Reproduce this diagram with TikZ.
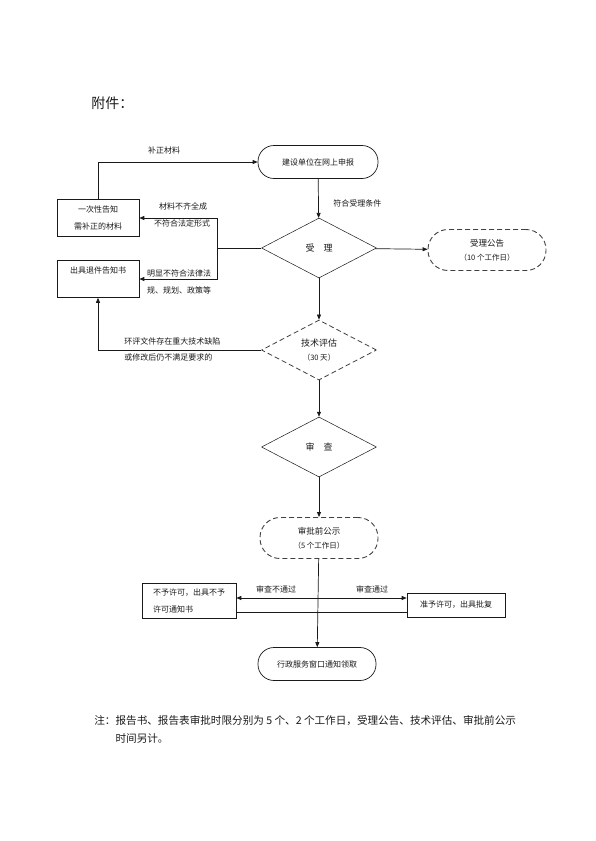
\documentclass[tikz,border=0pt]{standalone}
\usepackage{fontspec}
\setmainfont{Liberation Serif}
\newfontfamily\cjk{Noto Sans CJK SC}
\usetikzlibrary{arrows.meta,shapes.geometric}
\definecolor{LineClr}{rgb}{0.1,0.1,0.1}
\definecolor{DashClr}{rgb}{0.25,0.25,0.25}

\begin{document}
\begin{tikzpicture}[x=1pt,y=-1pt,line width=0.7pt,color=LineClr,
  font=\cjk\fontsize{8}{9}\selectfont,
  every node/.style={inner sep=1pt},
  term/.style={draw,rounded corners=16pt,minimum width=120pt,minimum height=33pt},
  dterm/.style={term,draw=DashClr,line width=0.9pt,dash pattern=on 5pt off 3pt,rounded corners=20pt,
    minimum width=118pt,minimum height=41pt,align=center,font=\cjk\fontsize{8.5}{14}\selectfont},
  dec/.style={draw,diamond,minimum width=115pt,minimum height=60pt,inner sep=0pt,line width=0.5pt},
  box/.style={draw,minimum width=82pt,minimum height=37pt,line width=0.6pt},
  twoline/.style={align=center,font=\cjk\fontsize{8}{17}\selectfont},
  flow/.style={-{Triangle[length=5pt,width=4pt]}}]
\useasboundingbox (0,0) rectangle (595,841);

\node[anchor=west,font=\cjk\fontsize{14}{16}\selectfont] (title) at (90,103) {附件：};

\node[term] (apply) at (318,162) {建设单位在网上申报};
\node[dec,font=\cjk\fontsize{9}{10}\selectfont] (accept) at (319,248) {受\quad 理};
\node[dterm] (notice) at (487,250) {受理公告\\{\fontsize{7.5}{8}\selectfont （10 个工作日）}};
\node[box,twoline] (supp) at (98,218) {一次性告知\\需补正的材料};
\node[box,twoline] (reject) at (98,279) {出具退件告知书\\\mbox{}};
\node[dec,draw=DashClr,line width=0.8pt,dash pattern=on 5pt off 3pt,align=center,
  font=\cjk\fontsize{9}{14}\selectfont] (tech) at (319,350) {技术评估\\{\fontsize{7.5}{8}\selectfont （30 天）}};
\node[dec,font=\cjk\fontsize{9}{10}\selectfont] (review) at (319,447) {审\quad 查};
\node[dterm] (pub) at (319,538) {审批前公示\\{\fontsize{7.5}{8}\selectfont （5 个工作日）}};
\node[box,minimum width=94pt,minimum height=35pt,align=left,
  font=\cjk\fontsize{8}{17}\selectfont] (deny) at (189,601) {不予许可，出具不予\\许可通知书};
\node[box,minimum width=98pt,minimum height=24pt] (grant) at (456,605) {准予许可，出具批复};
\node[term,minimum width=118pt] (done) at (317,664) {行政服务窗口通知领取};

\coordinate (split) at (217,248);
\coordinate (fork) at (319,598);
\coordinate (merge) at (319,612);

\draw[flow] (apply) -- (accept);
\draw[flow] (accept) -- (notice);
\draw (accept) -- (split);
\draw[flow] (split) |- (supp);
\draw[flow] (split) |- (reject);
\draw[flow] (supp) |- (apply);
\draw[flow] (accept) -- (tech);
\draw[flow] (tech) -| (reject);
\draw[flow] (tech) -- (review);
\draw[flow] (review) -- (pub);
\draw[flow] (pub) -- (done);
\draw[flow] (fork) -- (fork -| deny.east);
\draw[flow] (fork) -- (fork -| grant.west);
\draw (merge -| deny.east) -- (merge -| grant.west);

\node (lbl1) at (164,150) {补正材料};
\node[anchor=west] (lbl2) at (332,203) {符合受理条件};
\node (lbl3) at (183,206) {材料不齐全成};
\node (lbl4) at (182,223) {不符合法定形式};
\node (lbl5) at (179,273) {明显不符合法律法};
\node (lbl6) at (179,290) {规、规划、政策等};
\node[anchor=west] (lbl7) at (123,341) {环评文件存在重大技术缺陷};
\node[anchor=west] (lbl8) at (123,357) {或修改后仍不满足要求的};
\node (lbl9) at (276,589) {审查不通过};
\node (lbl10) at (372,589) {审查通过};

\node[anchor=north west,align=left,font=\cjk\fontsize{10.6}{18}\selectfont] (note) at (93,714)
  {注：报告书、报告表审批时限分别为 5 个、2 个工作日，受理公告、技术评估、审批前公示\\\hspace{2em}时间另计。};
\end{tikzpicture}
\end{document}
